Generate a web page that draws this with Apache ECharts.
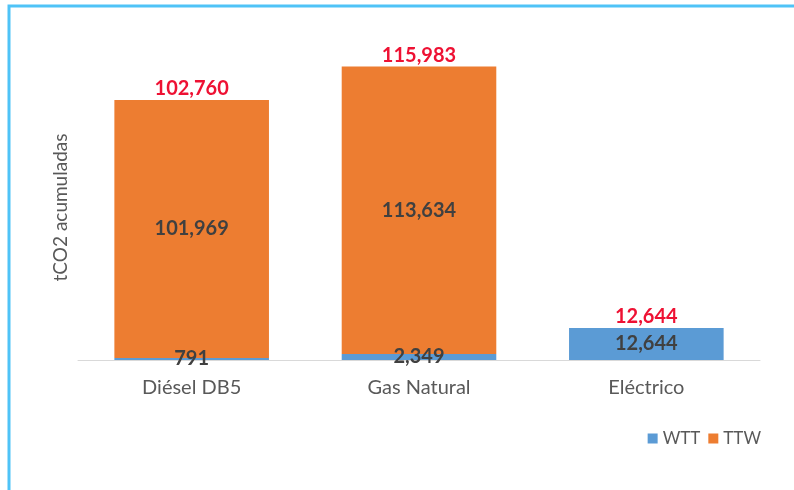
<!DOCTYPE html>
<html>
<head>
<meta charset="utf-8">
<script src="https://cdn.jsdelivr.net/npm/echarts@6/dist/echarts.min.js"></script>
<style>
  html, body { margin: 0; padding: 0; background: #fff; }
  #chart { width: 794px; height: 490px; }
</style>
</head>
<body>
<div id="chart"></div>
<script>
var categories = ["Diésel DB5", "Gas Natural", "Eléctrico"];
var wtt = [791, 2349, 12644];
var ttw = [101969, 113634, 0];
var totals = [102760, 115983, 12644];

var fmt = function (v) {
  return v.toLocaleString("en-US");
};

var chart = echarts.init(document.getElementById("chart"));
var option = {
  animation: false,
  textStyle: { fontFamily: "Lato, 'Noto Sans', sans-serif" },
  graphic: [
    {
      type: "rect",
      shape: { x: 9, y: 6, width: 820, height: 520 },
      style: { fill: "none", stroke: "#4FC3F7", lineWidth: 3 },
    },
  ],
  legend: {
    data: ["WTT", "TTW"],
    right: 28,
    top: 425,
    itemWidth: 10,
    itemHeight: 10,
    itemGap: 8,
    icon: "rect",
    textStyle: { color: "#595959", fontSize: 17 },
  },
  grid: { left: 78, right: 34, top: 31, bottom: 130 },
  xAxis: {
    type: "category",
    data: categories,
    axisTick: { show: false },
    axisLine: { lineStyle: { color: "#d9d9d9", width: 1 } },
    axisLabel: { color: "#595959", fontSize: 20, margin: 18 },
  },
  yAxis: {
    type: "value",
    min: 0,
    max: 130000,
    axisLabel: { show: false },
    splitLine: { show: false },
    axisLine: { show: false },
    name: "tCO2 acumuladas",
    nameLocation: "middle",
    nameGap: 8,
    nameTextStyle: { color: "#595959", fontSize: 19, padding: [0, 24, 0, 0] },
  },
  series: [
    {
      name: "WTT",
      type: "bar",
      stack: "t",
      barWidth: "68%",
      data: wtt,
      itemStyle: { color: "#5B9BD5" },
      label: {
        show: true,
        position: "inside",
        color: "#404040",
        fontSize: 20,
        fontWeight: "bold",
        formatter: function (p) { return fmt(p.value); },
      },
    },
    {
      name: "TTW",
      type: "bar",
      stack: "t",
      data: ttw,
      itemStyle: { color: "#ED7D31" },
      label: {
        show: true,
        position: "inside",
        color: "#404040",
        fontSize: 20,
        fontWeight: "bold",
        formatter: function (p) { return p.value ? fmt(p.value) : ""; },
      },
    },
    {
      name: "Total",
      type: "bar",
      barGap: "-100%",
      barWidth: "68%",
      data: totals,
      z: -1,
      itemStyle: { color: "rgba(0,0,0,0)" },
      label: {
        show: true,
        position: "top",
        distance: 1,
        color: "#EE1133",
        fontSize: 20,
        fontWeight: "bold",
        formatter: function (p) { return fmt(p.value); },
      },
    },
  ],
};
chart.setOption(option);
</script>
</body>
</html>
